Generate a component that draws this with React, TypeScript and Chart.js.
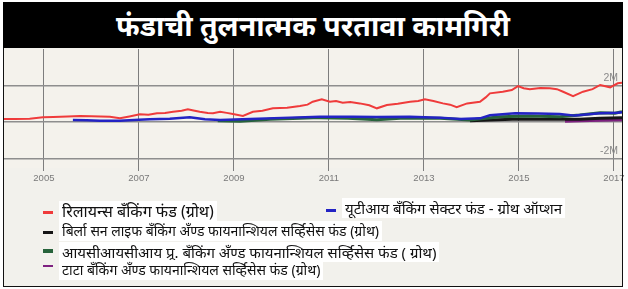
import React, { useEffect, useRef } from "react";
import { Chart, registerables } from "chart.js";

Chart.register(...registerables);

const TITLE = "फंडाची तुलनात्मक परतावा कामगिरी";

const xTickYears = [2005, 2007, 2009, 2011, 2013, 2015, 2017];
const yTickValues = [-2000000, 0, 2000000];
const yTickLabels = ["-2M", "", "2M"];

const seriesNames = [
  "रिलायन्स बँकिंग फंड (ग्रोथ)",
  "यूटीआय बँकिंग सेक्टर फंड - ग्रोथ ऑप्शन",
  "बिर्ला सन लाइफ बँकिंग अँण्ड फायनान्शियल सर्व्हिसेस फंड (ग्रोथ)",
  "आयसीआयसीआय प्रू. बँकिंग अँण्ड फायनान्शियल सर्व्हिसेस फंड ( ग्रोथ)",
  "टाटा बँकिंग अँण्ड फायनान्शियल सर्व्हिसेस फंड (ग्रोथ)",
];

// years and values (millions)
const relianceYears = [2004.16, 2004.4, 2004.7, 2004.98, 2005.2, 2005.5, 2005.76, 2006.0, 2006.39, 2006.6, 2006.8, 2007.02, 2007.2, 2007.38, 2007.55, 2007.72, 2007.9, 2008.03, 2008.15, 2008.28, 2008.45, 2008.56, 2008.71, 2008.85, 2008.98, 2009.19, 2009.4, 2009.6, 2009.82, 2010.12, 2010.39, 2010.55, 2010.66, 2010.85, 2011.02, 2011.15, 2011.29, 2011.45, 2011.65, 2011.85, 2012.01, 2012.22, 2012.45, 2012.71, 2012.88, 2013.02, 2013.2, 2013.4, 2013.55, 2013.69, 2013.91, 2014.18, 2014.3, 2014.39, 2014.66, 2014.85, 2014.98, 2015.1, 2015.23, 2015.45, 2015.65, 2015.8, 2015.93, 2016.14, 2016.35, 2016.55, 2016.71, 2016.92, 2017.08, 2017.17];
const relianceValues = [0.16, 0.17, 0.18, 0.26, 0.27, 0.3, 0.33, 0.31, 0.29, 0.2, 0.3, 0.42, 0.4, 0.48, 0.5, 0.56, 0.62, 0.7, 0.63, 0.56, 0.5, 0.48, 0.56, 0.5, 0.44, 0.33, 0.56, 0.62, 0.75, 0.78, 0.88, 0.95, 1.11, 1.24, 1.11, 1.15, 1.06, 1.1, 1.02, 0.92, 0.75, 0.93, 1.0, 1.11, 1.15, 1.24, 1.15, 1.02, 0.95, 0.81, 1.02, 1.11, 1.35, 1.57, 1.66, 1.75, 1.97, 1.85, 1.79, 1.86, 1.85, 1.8, 1.66, 1.42, 1.66, 1.8, 2.03, 1.9, 2.12, 2.15];

const utiYears = [2005.61, 2005.9, 2006.18, 2006.6, 2007.0, 2007.23, 2007.65, 2008.07, 2008.39, 2008.71, 2009.34, 2010.18, 2010.81, 2011.5, 2012.0, 2012.7, 2013.34, 2013.76, 2014.18, 2014.39, 2014.92, 2015.4, 2015.86, 2016.18, 2016.71, 2017.08, 2017.17];
const utiValues = [0.11, 0.1, 0.07, 0.07, 0.12, 0.15, 0.18, 0.26, 0.15, 0.11, 0.16, 0.24, 0.29, 0.29, 0.27, 0.29, 0.24, 0.16, 0.2, 0.37, 0.48, 0.46, 0.44, 0.35, 0.48, 0.51, 0.53];

const birlaYears = [2013.97, 2014.39, 2015.02, 2015.5, 2015.86, 2016.28, 2016.71, 2017.17];
const birlaValues = [0.07, 0.11, 0.16, 0.15, 0.15, 0.15, 0.2, 0.24];

const iciciYears = [2008.66, 2009.13, 2009.76, 2010.39, 2010.81, 2011.4, 2012.01, 2012.5, 2013.34, 2013.97, 2014.6, 2015.23, 2015.86, 2016.28, 2016.71, 2017.02, 2017.17];
const iciciValues = [0.07, 0.04, 0.15, 0.2, 0.24, 0.2, 0.13, 0.2, 0.2, 0.11, 0.29, 0.33, 0.29, 0.38, 0.51, 0.48, 0.56];

const tataYears = [2015.97, 2016.5, 2017.17];
const tataValues = [0.07, 0.11, 0.15];

const colors = ["#ef3b3b", "#2323c4", "#151515", "#27633b", "#7e2180"];

const toPoints = (xs: number[], ys: number[]) => xs.map((x, i) => ({ x, y: ys[i] * 1000000 }));

const plotBg = {
  id: "plotBg",
  beforeDraw(chart: any) {
    const { ctx, chartArea } = chart;
    ctx.save();
    ctx.fillStyle = "#f4f2ec";
    ctx.fillRect(chartArea.left, chartArea.top, chartArea.right - chartArea.left, chartArea.bottom - chartArea.top);
    ctx.restore();
  },
};

export default function App() {
  const ref = useRef<HTMLCanvasElement>(null);

  useEffect(() => {
    if (!ref.current) return;
    const chart = new Chart(ref.current, {
      type: "line",
      data: {
        datasets: [
          { label: seriesNames[0], data: toPoints(relianceYears, relianceValues), borderColor: colors[0], borderWidth: 2, order: 0 },
          { label: seriesNames[1], data: toPoints(utiYears, utiValues), borderColor: colors[1], borderWidth: 2.5, order: 1 },
          { label: seriesNames[2], data: toPoints(birlaYears, birlaValues), borderColor: colors[2], borderWidth: 3, order: 3 },
          { label: seriesNames[3], data: toPoints(iciciYears, iciciValues), borderColor: colors[3], borderWidth: 3, order: 2 },
          { label: seriesNames[4], data: toPoints(tataYears, tataValues), borderColor: colors[4], borderWidth: 4, order: 4 },
        ],
      },
      options: {
        animation: false,
        responsive: false,
        maintainAspectRatio: false,
        layout: { padding: { left: 0, top: 0, bottom: 0, right: 5 } },
        elements: { point: { radius: 0 }, line: { tension: 0 } },
        plugins: { legend: { display: false }, tooltip: { enabled: false }, title: { display: false } },
        scales: {
          x: {
            type: "linear",
            min: 2004.16,
            max: 2017.17,
            afterBuildTicks: (s: any) => {
              s.ticks = xTickYears.map((v) => ({ value: v }));
            },
            afterFit: (s: any) => {
              s.height = 15;
              s.paddingLeft = 0;
              s.paddingRight = 0;
            },
            ticks: {
              color: "#7a7a7a",
              font: { family: "'Liberation Sans'", size: 9.5 },
              padding: 2,
              maxRotation: 0,
              autoSkip: false,
              callback: (v: any) => String(v),
            },
            grid: { color: "#7d7d7d", lineWidth: 1, tickLength: 3 },
            border: { display: false },
          },
          y: {
            type: "linear",
            position: "right",
            min: -2520000,
            max: 4000000,
            afterBuildTicks: (s: any) => {
              s.ticks = yTickValues.map((v) => ({ value: v }));
            },
            afterFit: (s: any) => {
              s.width = 0;
              s.paddingTop = 0;
              s.paddingBottom = 0;
            },
            ticks: {
              mirror: true,
              padding: -4,
              labelOffset: -7,
              color: "#8a8a8a",
              font: { family: "'Liberation Sans'", size: 10.5 },
              callback: (v: any) => {
                const i = yTickValues.indexOf(Number(v));
                return i >= 0 ? yTickLabels[i] : "";
              },
            },
            grid: { color: "#8e8e8e", lineWidth: 1.5, drawTicks: false },
            border: { display: false },
          },
        },
      },
      plugins: [plotBg],
    });
    return () => chart.destroy();
  }, []);

  const devFont = "'Noto Sans', 'Noto Sans Devanagari', sans-serif";

  const legendRow = (i: number, left: number, top: number, size: number, dashTop: number, dashH: number) => (
    <React.Fragment key={i}>
      <div style={{ position: "absolute", left: left, top: dashTop, width: 10, height: dashH, background: colors[i] }} />
      <div
        style={{
          position: "absolute",
          left: left + 16,
          top: top,
          fontFamily: devFont,
          fontSize: size,
          lineHeight: "20px",
          whiteSpace: "nowrap",
          color: "#111",
          background: "#ffffff",
          padding: "0 3px",
        }}
      >
        {seriesNames[i]}
      </div>
    </React.Fragment>
  );

  return (
    <div style={{ position: "absolute", left: 0, top: 0, width: 628, height: 289, background: "#ffffff", overflow: "hidden" }}>
      <div
        style={{
          position: "absolute",
          left: 3,
          top: 2,
          width: 620,
          height: 46,
          background: "#000",
          color: "#fff",
          fontFamily: devFont,
          fontWeight: 700,
          fontSize: 28.5,
          lineHeight: "46px",
          textAlign: "center",
        }}
      >
        {TITLE}
      </div>
      <div style={{ position: "absolute", left: 3, top: 48, width: 620, height: 239, background: "#f2f1ec" }} />
      <canvas ref={ref} width={623} height={134} style={{ position: "absolute", left: 4, top: 49, width: 623, height: 134 }} />
      <div
        style={{
          position: "absolute",
          left: 3,
          top: 48,
          width: 620,
          height: 239,
          boxSizing: "border-box",
          border: "1.5px solid #111",
          borderTop: "none",
          pointerEvents: "none",
        }}
      />
      {legendRow(0, 43, 201, 16, 211, 3)}
      {legendRow(1, 326, 198, 15, 209, 3)}
      {legendRow(2, 43, 221, 14, 231, 3)}
      {legendRow(3, 43, 242, 15, 249, 4)}
      {legendRow(4, 43, 260, 14, 265, 2)}
    </div>
  );
}
